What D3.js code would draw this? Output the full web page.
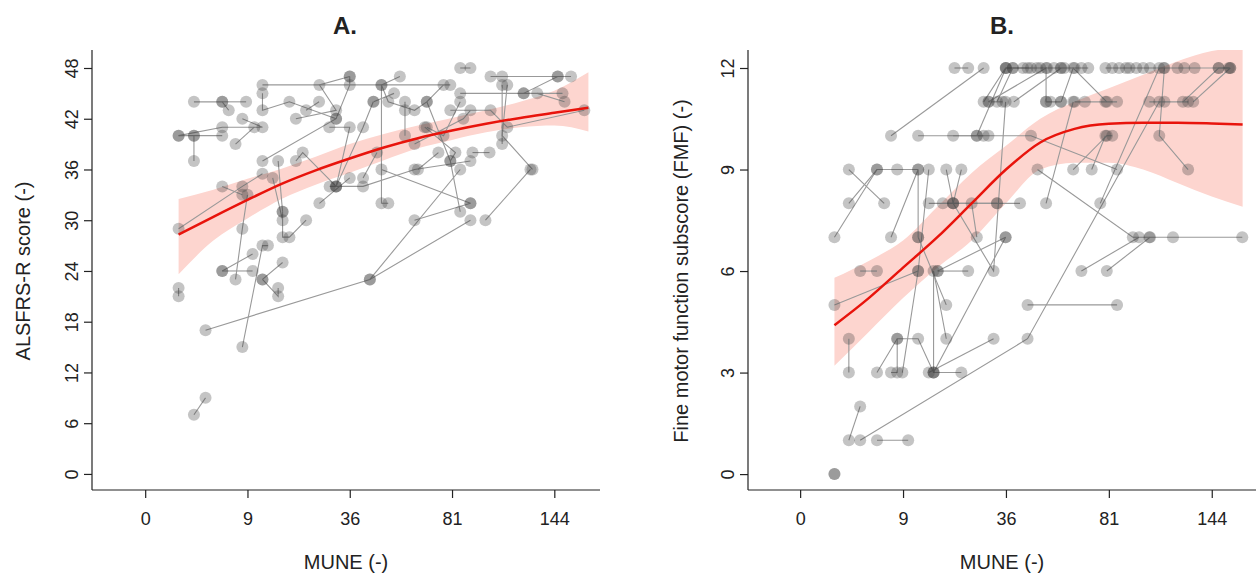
<!DOCTYPE html>
<html><head><meta charset="utf-8">
<script src="https://cdn.jsdelivr.net/npm/d3@7"></script>
<style>body{margin:0;background:#fff}text{font-family:Arial,"Liberation Sans",sans-serif}</style>
</head><body><svg id="c" width="1256" height="576"></svg>
<script>
// x values are sqrt(MUNE); tick labels show MUNE
const xTicks=[0,9,36,81,144];
const yTicksA=[0,6,12,18,24,30,36,42,48];
const yTicksB=[0,3,6,9,12];
const trajA=[
[[0.98,29],[2.85,34],[3.44,35.5]],[[0.98,40],[1.43,40],[2.26,40]],[[1.43,40],[1.43,37]],
[[1.43,44],[2.26,44],[2.45,43]],[[2.26,44],[2.96,44]],[[0.98,22],[0.98,21]],[[1.43,7],[1.77,9]],
[[1.77,17],[6.59,23],[9.54,30]],[[6.59,23],[9.24,36]],[[2.85,15],[3.44,27],[3.6,27]],
[[2.26,24],[3.15,26]],[[2.26,24],[3.15,24]],[[2.65,23],[2.85,29],[3.0,33]],
[[3.44,23],[3.9,21],[3.9,22]],[[3.44,23],[4.03,25]],[[4.03,31],[4.03,28],[4.23,28],[4.72,30]],
[[3.74,35],[4.03,30]],[[2.26,34],[2.85,33]],[[3.44,37],[5.6,42],[6.0,46],[6.0,47]],
[[3.44,46],[8.95,46]],[[3.44,45],[3.44,43],[4.23,44],[5.6,42]],[[2.85,42],[3.44,41],[2.26,41],[0.98,40]],
[[2.65,39],[3.2,41]],[[4.42,37],[4.62,38],[5.6,34]],[[3.9,37],[4.03,31]],
[[5.41,34],[5.6,34],[6.39,34],[7.9,36],[9.54,37]],[[5.11,32],[6.0,35]],
[[5.4,41],[6.0,41],[5.6,34],[6.39,41],[6.69,44]],[[4.42,42],[5.6,43],[5.11,46],[6.0,47]],
[[6.93,46],[6.93,32],[7.13,32]],[[6.93,36],[9.54,32]],[[7.47,47],[6.93,46],[7.13,44],[7.9,43],[8.26,44],[8.75,46]],
[[7.9,30],[9.54,32]],[[7.62,44],[7.62,43],[7.62,40]],[[8.2,41],[9.1,38],[8.95,37]],
[[7.9,39],[9.33,42],[9.54,43]],[[9.24,48],[9.54,48]],[[10.13,47],[10.47,47],[12.1,47],[12.49,47]],
[[10.62,46],[10.47,40],[11.36,36]],[[9.24,45],[11.1,45],[12.24,45]],[[11.1,45],[12.1,47]],
[[8.95,43],[10.13,43],[10.62,41],[12.88,43]],[[9.98,30],[11.3,36]],[[8.26,44],[8.95,37],[9.24,31]],
[[8.26,41],[8.75,40],[9.24,44]],[[6.39,35],[6.8,38]],[[4.72,43],[5.1,44]],[[6.7,44],[7.3,45]],
[[9.6,38],[10.1,38]],[[10.47,46],[10.47,39]],[[8.0,36],[8.6,38]],[[11.5,45],[12.3,44]]
];
const curveA=[[0.98,28.3],[2,30.4],[3,32.4],[4,34.3],[5,35.9],[6,37.3],[7,38.6],[8,39.7],[9,40.6],[10,41.4],[11,42.1],[12,42.7],[13,43.3]];
const bandALo=[[0.98,23.6],[2,27.6],[3,30.2],[4,32.5],[5,34.2],[6,35.6],[7,37.1],[8,38.5],[9,39.5],[10,40.4],[11,41],[12,41.2],[13,40.5]];
const bandAHi=[[0.98,32.5],[2,33.6],[3,34.9],[4,36.1],[5,37.5],[6,39],[7,40.2],[8,41.2],[9,42.1],[10,43],[11,44],[12,45.3],[13,47.5]];
const trajB=[
[[1.0,0]],[[1.0,0]],[[1.0,5],[3.44,6]],[[1.0,7],[2.24,9]],[[1.42,9],[2.45,8]],[[1.42,8],[2.24,9],[2.83,9],[3.44,9]],
[[2.65,7],[3.44,9],[3.44,7]],[[1.42,4],[1.42,3]],[[1.42,1],[1.75,2]],[[1.75,1],[6.63,4],[10.47,11]],
[[2.24,1],[3.15,1]],[[1.75,6],[2.24,6]],[[2.24,3],[2.83,4],[3.44,4],[3.89,3],[4.7,3]],
[[2.65,3],[2.83,3],[2.83,4]],[[2.98,3],[3.44,6],[3.75,9]],[[3.89,3],[5.99,7]],[[3.75,3],[5.64,4]],
[[3.89,3],[3.89,6],[4.26,4]],[[3.44,7],[4.26,5]],[[4.01,6],[4.9,6]],[[4.01,6],[5.99,7]],
[[3.75,8],[5.74,8],[6.41,8]],[[4.26,9],[4.46,8],[5.64,6],[5.99,11]],[[4.16,8],[4.46,8],[5.74,8]],
[[4.7,9],[4.46,8]],[[2.65,10],[5.35,12]],[[3.44,10],[5.49,10],[6.73,10],[9.24,9]],
[[4.46,10],[5.15,10],[5.35,10]],[[5.15,10],[6.0,12]],[[5.35,11],[5.99,12],[6.63,12]],
[[5.74,11],[6.2,12],[6.73,12]],[[5.49,11],[7.17,12],[7.17,11]],[[6.23,11],[7.61,12]],
[[7.61,11],[7.96,12],[8.94,11]],[[6.92,9],[9.7,7],[10.18,7],[10.87,7],[12.89,7]],[[6.63,5],[9.24,5]],
[[7.96,9],[8.94,10],[9.1,10]],[[8.5,9],[8.9,10]],[[8.2,6],[9.88,7]],[[8.94,6],[10.2,7]],
[[7.17,8],[7.96,11]],[[8.75,8],[10.47,12]],[[10.62,12],[10.47,10],[11.31,9]],
[[11.16,11],[12.2,12],[12.54,12]],[[10.18,11],[10.62,11],[11.31,11]],[[11.46,11],[12.54,12]],
[[6.0,12],[6.2,12],[6.5,12],[6.9,12],[7.0,12],[7.2,12],[7.4,12],[7.6,12],[7.7,12],[8.0,12],[8.2,12],[8.4,12]],
[[8.9,12],[9.1,12],[9.3,12],[9.5,12],[9.6,12],[9.8,12],[10.0,12],[10.2,12],[10.6,12],[11.0,12],[11.2,12],[11.5,12],[12.2,12],[12.5,12]],
[[8.0,11],[8.3,11],[8.9,11],[9.24,11]],[[7.3,11],[7.6,11],[7.17,11]],[[5.5,11],[5.9,11]],[[5.0,8],[5.15,7]],[[4.5,12],[4.9,12]]
];
const curveB=[[1,4.4],[2,5.2],[3,6.1],[4,7.0],[5,8.0],[6,9.0],[7,9.8],[8,10.2],[9,10.35],[10,10.38],[11,10.38],[12,10.36],[12.9,10.33]];
const bandBLo=[[1,3.2],[2,4.2],[3,5.2],[4,6.1],[5,6.9],[6,8.0],[7,9.0],[8,9.2],[9,9.2],[10,9.0],[11,8.6],[12,8.2],[12.9,7.9]];
const bandBHi=[[1,5.8],[2,6.3],[3,6.9],[4,7.9],[5,8.9],[6,9.7],[7,10.5],[8,11.0],[9,11.4],[10,11.8],[11,12.2],[12,12.5],[12.9,12.6]];

const svg=d3.select("#c");
function panel(o){
  const x=d3.scaleLinear().domain(o.xd).range([o.L,o.R]);
  const y=d3.scaleLinear().domain(o.yd).range([490,68]);
  const g=svg.append("g");
  const cid="clip"+o.id;
  svg.append("clipPath").attr("id",cid).append("rect").attr("x",o.L).attr("y",50).attr("width",o.R-o.L).attr("height",440);
  const pg=g.append("g").attr("clip-path",`url(#${cid})`);
  const band=o.lo.map((d,i)=>[d[0],d[1],o.hi[i][1]]);
  pg.append("path").attr("d",d3.area().x(d=>x(d[0])).y0(d=>y(d[1])).y1(d=>y(d[2])).curve(d3.curveMonotoneX)(band)).attr("fill","#fdd5cf");
  const ln=d3.line().x(d=>x(d[0])).y(d=>y(d[1]));
  o.traj.forEach(t=>{
    if(t.length>1) pg.append("path").attr("d",ln(t)).attr("fill","none").attr("stroke","#999").attr("stroke-width",1.1);
  });
  o.traj.forEach(t=>t.forEach(p=>pg.append("circle").attr("cx",x(p[0])).attr("cy",y(p[1])).attr("r",6).attr("fill","rgba(60,60,60,0.3)")));
  pg.append("path").attr("d",ln.curve(d3.curveMonotoneX)(o.curve)).attr("fill","none").attr("stroke","#e8140c").attr("stroke-width",2.5);
  const ax=g.append("g").attr("transform","translate(0,490)").call(d3.axisBottom(x).tickValues(xTicks.map(Math.sqrt)).tickFormat((d,i)=>xTicks[i]).tickSize(8).tickPadding(14));
  const ay=g.append("g").attr("transform",`translate(${o.L},0)`).call(d3.axisLeft(y).tickValues(o.yt).tickSize(8).tickPadding(8));
  [ax,ay].forEach(a=>{a.select(".domain").remove();a.selectAll("line").attr("stroke","#222").attr("stroke-width",1.2);a.selectAll("text").attr("font-size",18).attr("fill","#222").attr("font-family","Arial,'Liberation Sans',sans-serif");});
  ay.selectAll(".tick text").attr("text-anchor","middle").attr("transform","translate(-20,0) rotate(-90)").attr("x",0).attr("y",0).attr("dy","0.35em");
  g.append("line").attr("x1",o.L).attr("x2",o.L).attr("y1",50).attr("y2",490).attr("stroke","#222").attr("stroke-width",1.2);
  g.append("line").attr("x1",o.L).attr("x2",o.R).attr("y1",490).attr("y2",490).attr("stroke","#222").attr("stroke-width",1.2);
  g.append("text").attr("x",(o.L+o.R)/2).attr("y",569).attr("text-anchor","middle").attr("font-size",20).attr("fill","#222").text("MUNE (-)");
  g.append("text").attr("transform",`translate(${o.yl},${(68+474)/2}) rotate(-90)`).attr("text-anchor","middle").attr("font-size",20).attr("fill","#222").text(o.ylab);
  g.append("text").attr("x",o.tx).attr("y",34).attr("text-anchor","middle").attr("font-size",24).attr("font-weight","bold").attr("fill","#222").text(o.title);
}
panel({id:"A",L:92,R:600,xd:[-1.56,13.34],yd:[-1.9,48],yt:yTicksA,traj:trajA,curve:curveA,lo:bandALo,hi:bandAHi,yl:30,ylab:"ALSFRS-R score (-)",tx:345,title:"A."});
panel({id:"B",L:748,R:1256,xd:[-1.52,13.29],yd:[-0.47,12],yt:yTicksB,traj:trajB,curve:curveB,lo:bandBLo,hi:bandBHi,yl:688,ylab:"Fine motor function subscore (FMF) (-)",tx:1002,title:"B."});
</script></body></html>
